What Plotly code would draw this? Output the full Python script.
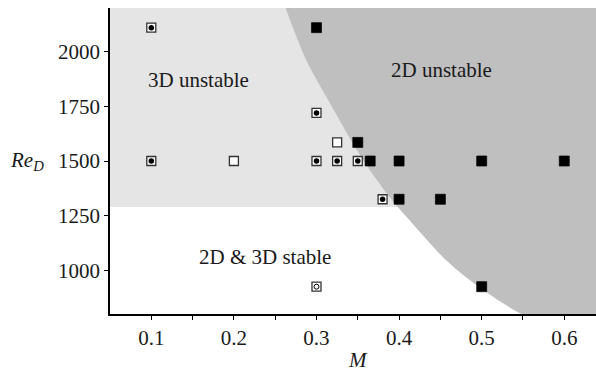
import plotly.graph_objects as go

# Measured cases, grouped by observed behaviour (Mach number M, Reynolds number Re_D)
dot_M = [0.1, 0.1, 0.3, 0.3, 0.325, 0.35, 0.38]
dot_Re = [2110, 1500, 1720, 1500, 1500, 1500, 1325]

open_M = [0.2, 0.325]
open_Re = [1500, 1585]

ring_M = [0.3]
ring_Re = [925]

filled_M = [0.3, 0.35, 0.365, 0.4, 0.5, 0.6, 0.4, 0.45, 0.5]
filled_Re = [2110, 1585, 1500, 1500, 1500, 1500, 1325, 1325, 925]

# Stability boundaries
re_3d_threshold = 1290
boundary_M = [0.2621, 0.2875, 0.3141, 0.3565, 0.3916, 0.4158, 0.4569, 0.4956, 0.5464]
boundary_Re = [2204.6, 1961.9, 1778.7, 1503.9, 1320.7, 1215.4, 1045.9, 926.9, 803.2]
# closing vertices of the 2D-unstable polygon, all outside the visible window
closure_M = [0.59, 0.80, 0.80, 0.25]
closure_Re = [740, 700, 2400, 2400]

x_range = [0.05, 0.6384]
y_range = [800, 2200]
x_tickvals = [0.1, 0.2, 0.3, 0.4, 0.5, 0.6]
x_ticktext = ["0.1", "0.2", "0.3", "0.4", "0.5", "0.6"]
x_minor_tickvals = [0.15, 0.25, 0.35, 0.45, 0.55]
y_tickvals = [1000, 1250, 1500, 1750, 2000]
y_ticktext = ["1000", "1250", "1500", "1750", "2000"]

SERIF = "Liberation Serif, Times New Roman, serif"
TEXT = "#1a1a1a"
LIGHT = "#e5e5e5"
DARK = "#bfbfbf"

fig = go.Figure()

# 2D-unstable region to the right of the curved boundary
fig.add_trace(go.Scatter(
    x=boundary_M + closure_M,
    y=boundary_Re + closure_Re,
    mode="lines", fill="toself", fillcolor=DARK,
    line=dict(width=0, color=DARK, shape="spline", smoothing=0.8),
    hoverinfo="skip", showlegend=False,
))

square_line = dict(color="#333333", width=1.3)

# open squares (stable)
fig.add_trace(go.Scatter(
    x=open_M, y=open_Re, mode="markers", showlegend=False,
    marker=dict(symbol="square", size=9, color="white", line=square_line),
))

# squares with a black dot (3D unstable)
fig.add_trace(go.Scatter(
    x=dot_M, y=dot_Re, mode="markers", showlegend=False,
    marker=dict(symbol="square", size=9, color="white", line=square_line),
))
fig.add_trace(go.Scatter(
    x=dot_M, y=dot_Re, mode="markers", showlegend=False,
    marker=dict(symbol="circle", size=5.5, color="black", line=dict(width=0)),
))

# square with a small open circle
fig.add_trace(go.Scatter(
    x=ring_M, y=ring_Re, mode="markers", showlegend=False,
    marker=dict(symbol="square", size=9, color="white", line=square_line),
))
fig.add_trace(go.Scatter(
    x=ring_M, y=ring_Re, mode="markers", showlegend=False,
    marker=dict(symbol="circle", size=5, color="white", line=dict(color="black", width=1)),
))

# filled squares (2D unstable)
fig.add_trace(go.Scatter(
    x=filled_M, y=filled_Re, mode="markers", showlegend=False,
    marker=dict(symbol="square", size=10, color="black", line=dict(color="black", width=0.7)),
))

# 3D-unstable band above the threshold Reynolds number
fig.add_shape(type="rect", xref="paper", yref="y", x0=0, x1=1,
              y0=re_3d_threshold, y1=y_range[1],
              fillcolor=LIGHT, line=dict(width=0), layer="below")

region_labels = [
    ("3D unstable", 0.1574, 1870),
    ("2D unstable", 0.451, 1916),
    ("2D & 3D stable", 0.2373, 1060),
]
for text, mx, re in region_labels:
    fig.add_annotation(x=mx, y=re, text=text, showarrow=False,
                       font=dict(family=SERIF, size=21, color=TEXT))

fig.add_annotation(xref="paper", yref="paper", x=(358 - 110) / 486, y=-0.150,
                   text="<i>M</i>", showarrow=False, yanchor="middle",
                   font=dict(family=SERIF, size=21, color=TEXT))
fig.add_annotation(xref="paper", yref="y", x=-(110 - 46) / 486, y=1500,
                   xanchor="right",
                   text="<i>Re</i><sub><i>D</i></sub>", showarrow=False,
                   font=dict(family=SERIF, size=21, color=TEXT))

axis_common = dict(
    showgrid=False, zeroline=False, showline=True, linecolor="black", linewidth=1.6,
    ticks="outside", ticklen=4, tickwidth=1, tickcolor="black",
    tickfont=dict(family=SERIF, size=21, color=TEXT),
)

fig.update_xaxes(range=x_range, tickvals=x_tickvals, ticktext=x_ticktext,
                 minor=dict(tickvals=x_minor_tickvals, ticks="outside",
                            ticklen=4, tickwidth=1, tickcolor="black"),
                 **axis_common)
fig.update_yaxes(range=y_range, tickvals=y_tickvals, ticktext=y_ticktext, **axis_common)

fig.update_layout(
    width=596, height=373,
    margin=dict(l=110, r=0, t=8, b=59),
    paper_bgcolor="white", plot_bgcolor="white",
    showlegend=False,
)

fig.write_html("out.html")
